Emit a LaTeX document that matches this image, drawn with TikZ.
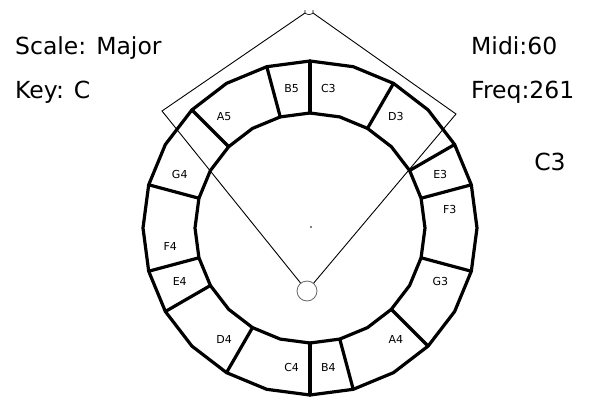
\documentclass[tikz,border=0pt]{standalone}
\usepackage{fontspec}
\setmainfont{DejaVu Sans}
\begin{document}
\begin{tikzpicture}[x=1pt,y=-1pt,
  ringline/.style={line width=3.2pt,line join=round,line cap=round},
  thin/.style={line width=0.9pt},
  lbl/.style={font=\fontsize{11}{13}\selectfont,inner sep=0pt},
  big/.style={font=\fontsize{23.5}{28}\selectfont,inner sep=0pt}]
\useasboundingbox (0,0) rectangle (591,397);
% texts
\node[big,anchor=base west] (scale) at (15,54) {Scale: Major};
\node[big,anchor=base west] (key) at (15,98) {Key: C};
\node[big,anchor=base west] (midi) at (471,54) {Midi:60};
\node[big,anchor=base west] (freq) at (471,98) {Freq:261};
\node[big,anchor=base] (note) at (550,170) {C3};
% ring
\begin{scope}[shift={(310pt,-228pt)},x=1pt,y=1pt]
  \draw[ringline] (0:167) \foreach \a in {15,30,...,345}{ -- (\a:167)} -- cycle;
  \draw[ringline] (0:115) \foreach \a in {15,30,...,345}{ -- (\a:115)} -- cycle;
  \foreach \a in {90,60,30,15,-15,-45,-75,-90,-120,-150,-165,165,135,105}
    \draw[ringline] (\a:115) -- (\a:167);
  \foreach \a/\t in {82.5/C3,52.5/D3,22.5/E3,7.5/F3,-22.5/G3,-52.5/A4,-82.5/B4,
                     -97.5/C4,-127.5/D4,-157.5/E4,-172.5/F4,157.5/G4,127.5/A5,97.5/B5}
    \node[lbl] (n\t) at (\a:141) {\t};
  \fill (1,1) circle (0.8);
\end{scope}
% wedge pointer
\node[draw=gray!80!black,line width=0.8pt,circle,minimum size=20pt,inner sep=0pt] (piv) at (307,291) {};
\coordinate (lc) at (162,111);
\coordinate (rc) at (456,114);
\coordinate (tl) at (305,13);
\coordinate (tr) at (313,13);
\draw[thin] (piv) -- (lc) -- (tl);
\draw[thin] (piv) -- (rc) -- (tr);
\draw[line width=0.6pt] (tl) ++(0,-3) -- (tl) .. controls (307,15) and (311,15) .. (tr) -- ++(0,-3);
\end{tikzpicture}
\end{document}
